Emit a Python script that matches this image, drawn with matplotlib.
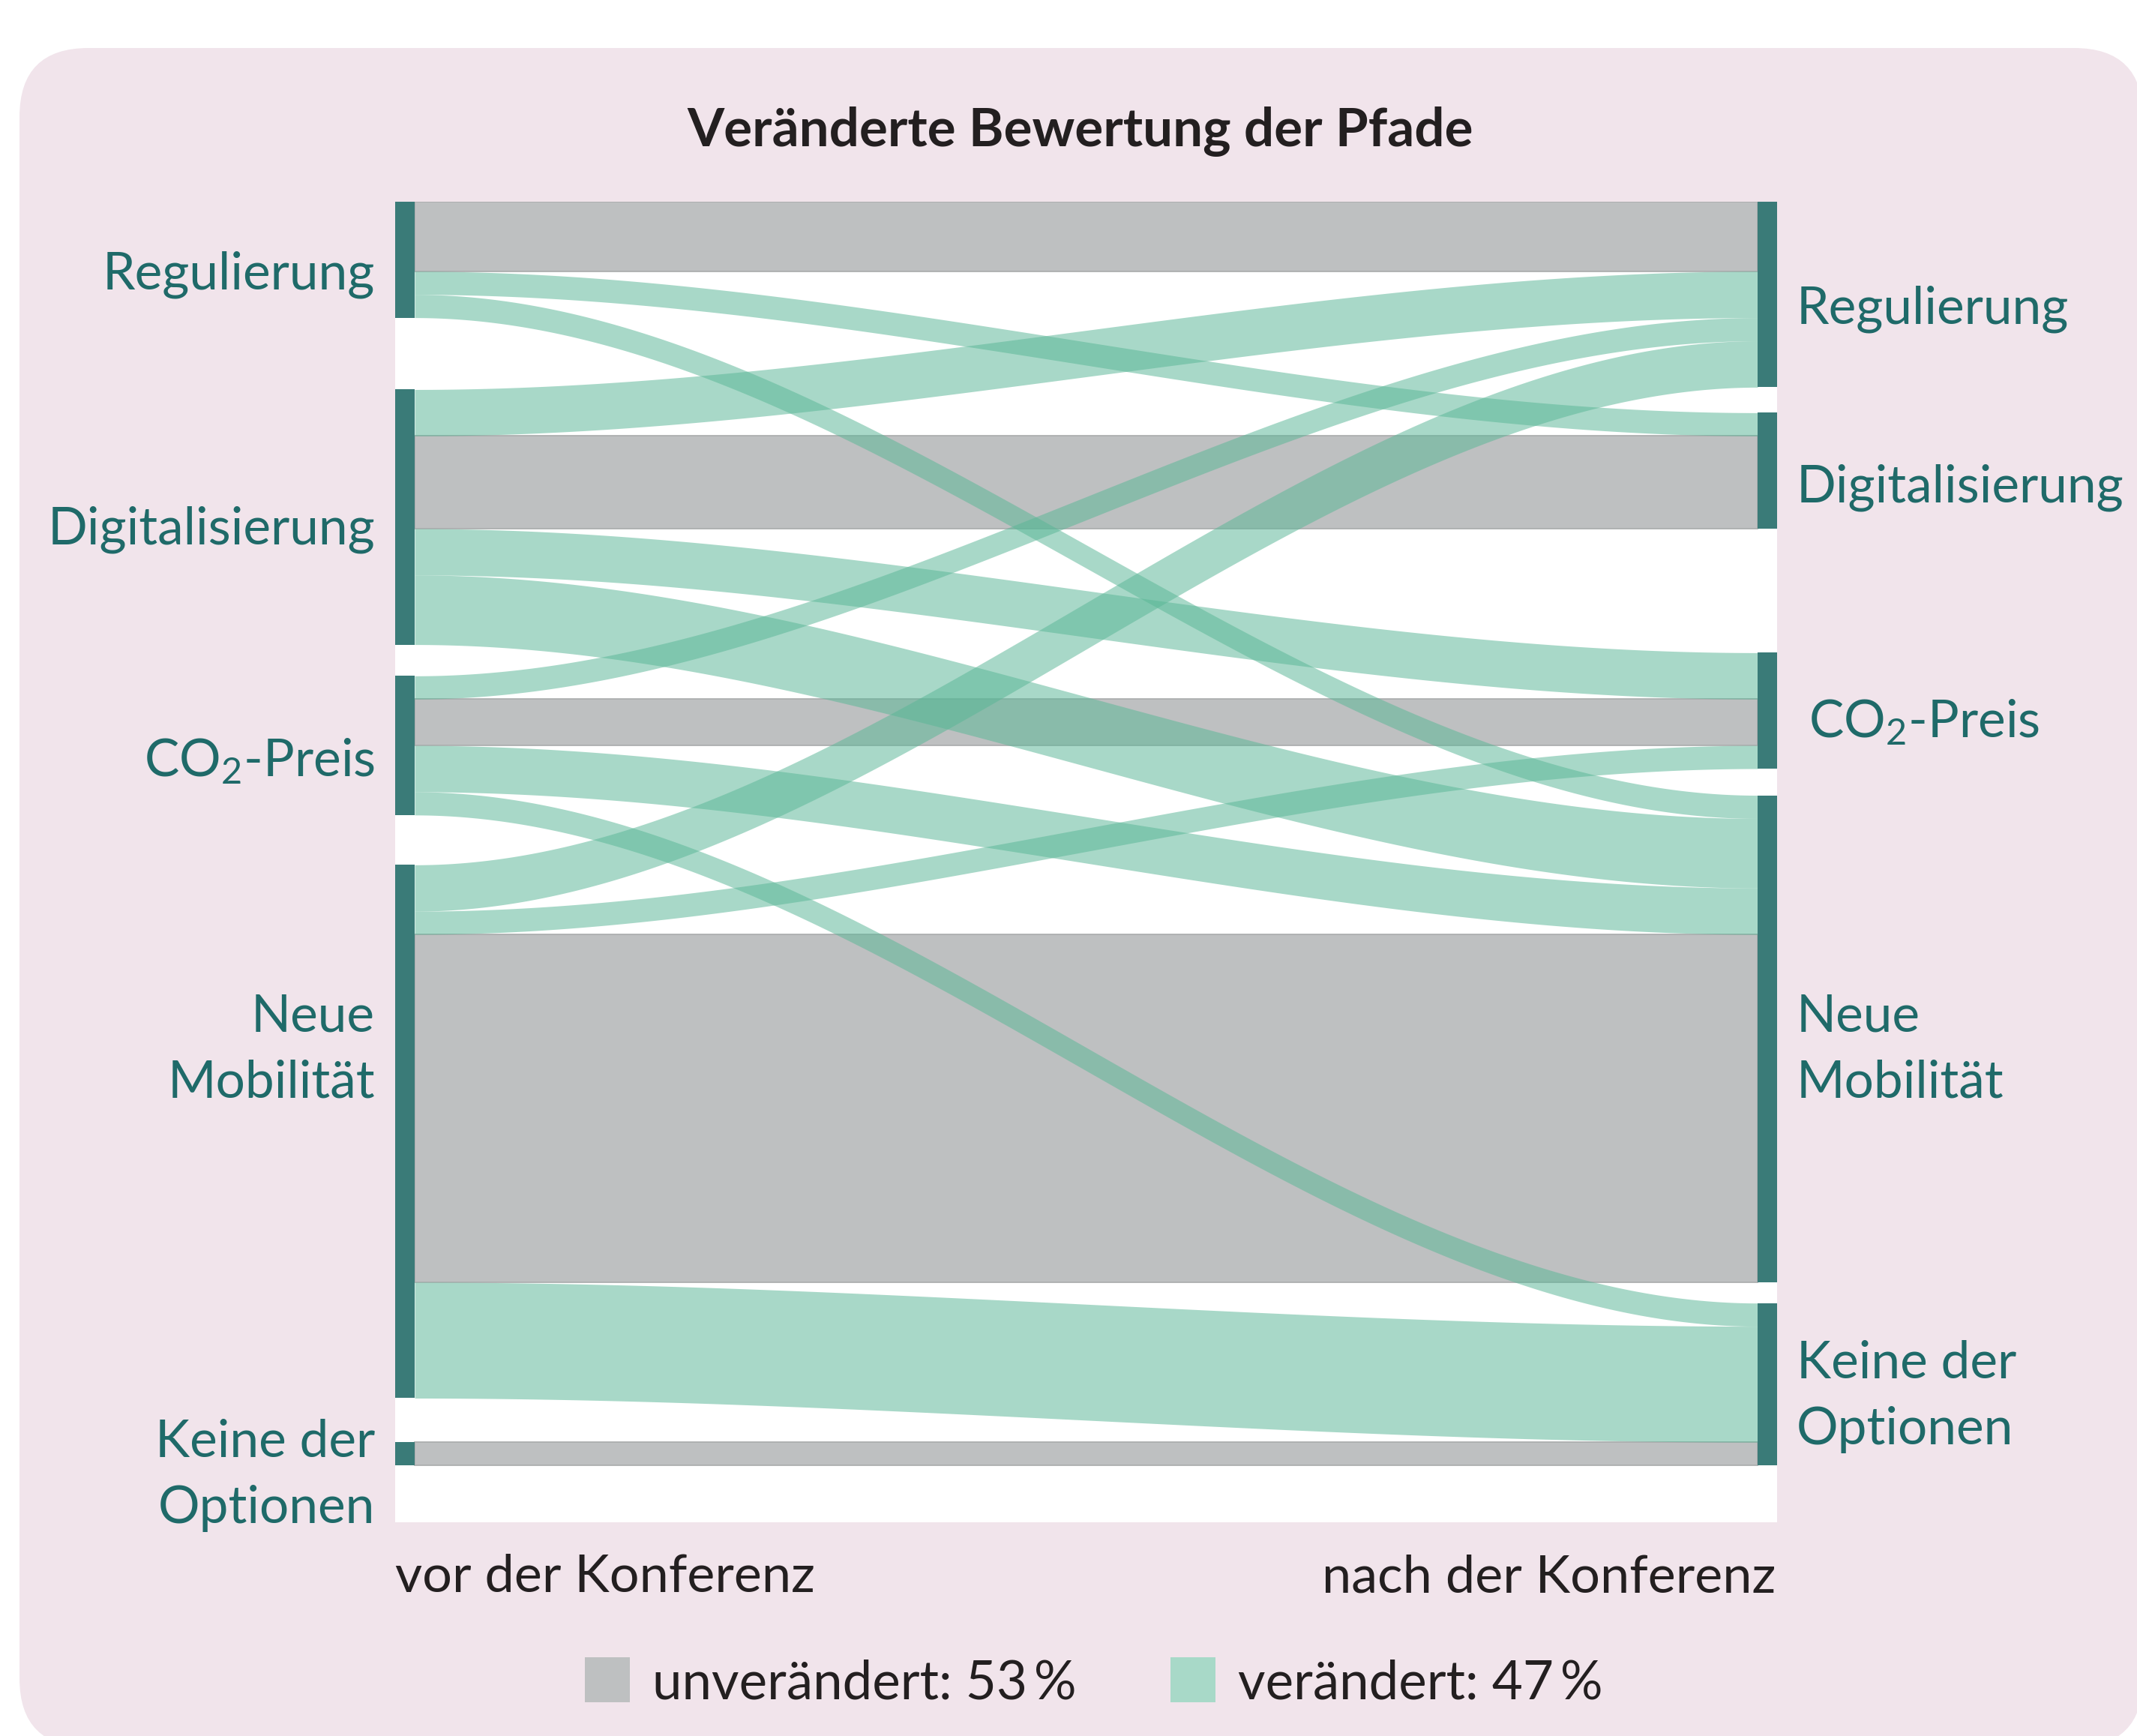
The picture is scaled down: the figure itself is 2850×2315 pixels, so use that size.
"""Alluvial chart: how the assessment of the paths changed (before vs after)."""
import numpy as np
import matplotlib.pyplot as plt
from matplotlib import font_manager
from matplotlib.patches import FancyBboxPatch, Rectangle

# --- data ------------------------------------------------------------------
nodes = ["Regulierung", "Digitalisierung", "CO$_\\mathrm{2}$-Preis",
         "Neue\nMobilität", "Keine der\nOptionen"]
# respondents: rows = before the conference, cols = after the conference
flows = np.array([
    [3, 1, 0, 1, 0],
    [2, 4, 2, 3, 0],
    [1, 0, 2, 2, 1],
    [2, 0, 1, 15, 5],
    [0, 0, 0, 0, 1],
])
title = "Veränderte Bewertung der Pfade"
side_labels = ["vor der Konferenz", "nach der Konferenz"]
legend_labels = ["unverändert: 53\u2009%", "verändert: 47\u2009%"]

# --- layout (node tops in respondent units, label baselines in px) ---------
top_left = [0.0, 8.1, 20.45, 28.6, 53.5]
top_right = [0.0, 9.1, 19.45, 25.6, 47.5]
lab_left_y = [385, 725, 1036, 1376, 1943]
lab_right_y = [431, 669, 984, 1376, 1838]
LINE = 88

W, H = 2850, 2315
PLOT = (527, 269, 2370, 2030)          # white area in px (x0, y0, x1, y1)
UNIT = 30.92                            # px per respondent
BAR = 26 / (PLOT[2] - PLOT[0])          # node bar width (axes x fraction)

PINK = "#F1E4EB"
GREY = "#BEC0C1"
GREEN = (91 / 255, 183 / 255, 151 / 255)
GREEN_LEG = "#A8D9C8"
TEAL = "#3A7B78"
TEAL_TXT = "#1F6A69"
DARK = "#231F20"

avail = {f.name for f in font_manager.fontManager.ttflist}
FONT = next((f for f in ["Lato", "Open Sans", "Noto Sans"] if f in avail),
            "DejaVu Sans")
plt.rcParams["font.family"] = [FONT, "DejaVu Sans"]
plt.rcParams["mathtext.fontset"] = "custom"
plt.rcParams["mathtext.rm"] = FONT
plt.rcParams["mathtext.it"] = FONT

fig = plt.figure(figsize=(W / 100, H / 100), dpi=100)
fig.patch.set_facecolor("white")

# background axes in pixel coordinates
bg = fig.add_axes([0, 0, 1, 1])
bg.set_xlim(0, W); bg.set_ylim(H, 0); bg.axis("off")
bg.add_patch(FancyBboxPatch((26, 64), 2832, 2266,
                            boxstyle="round,pad=0,rounding_size=92",
                            fc=PINK, ec="none"))

# main axes: x in [0, 1], y in respondent units (downwards)
ax = fig.add_axes([PLOT[0] / W, 1 - PLOT[3] / H, (PLOT[2] - PLOT[0]) / W,
                   (PLOT[3] - PLOT[1]) / H])
ax.set_xlim(0, 1)
ax.set_ylim((PLOT[3] - PLOT[1]) / UNIT, 0)
ax.axis("off")
ax.add_patch(Rectangle((0, 0), 1, (PLOT[3] - PLOT[1]) / UNIT, fc="white",
                       ec="none", zorder=0))

xs = np.linspace(BAR, 1 - BAR, 300)
t = (xs - BAR) / (1 - 2 * BAR)
s = t * t * (3 - 2 * t)

n = len(nodes)
lcur = list(top_left)
rcur = list(top_right)
for i in range(n):
    for j in range(n):
        v = flows[i, j]
        if v == 0:
            continue
        yl, yr = lcur[i], rcur[j]
        lcur[i] += v
        rcur[j] += v
        if i == j:
            ax.add_patch(Rectangle((BAR, yl), 1 - 2 * BAR, v, fc=GREY,
                                   ec="#A9ABAC", lw=1.2, zorder=1))
        else:
            y_top = yl + (yr - yl) * s
            ax.fill_between(xs, y_top, y_top + v, color=GREEN, alpha=0.53,
                            lw=0, zorder=2)

out_tot = flows.sum(1)
in_tot = flows.sum(0)
for i in range(n):
    ax.add_patch(Rectangle((0, top_left[i]), BAR, out_tot[i], fc=TEAL,
                           ec="none", zorder=3))
    ax.add_patch(Rectangle((1 - BAR, top_right[i]), BAR, in_tot[i], fc=TEAL,
                           ec="none", zorder=3))

# node labels
for i, name in enumerate(nodes):
    for k, line in enumerate(name.split("\n")):
        bg.text(500, lab_left_y[i] + k * LINE, line, ha="right",
                va="baseline", fontsize=50, color=TEAL_TXT)
        x_r = 2412 if "CO" in line else 2396
        bg.text(x_r, lab_right_y[i] + k * LINE, line, ha="left",
                va="baseline", fontsize=50, color=TEAL_TXT)

bg.text(1441, 195, title, ha="center", va="baseline", fontsize=51,
        fontweight="bold", color=DARK)
bg.text(527, 2123, side_labels[0], ha="left", va="baseline", fontsize=50.5,
        color=DARK)
bg.text(2368, 2123, side_labels[1], ha="right", va="baseline", fontsize=50.5,
        color=DARK)

# legend
for x, col, lab in [(780, GREY, legend_labels[0]),
                    (1561, GREEN_LEG, legend_labels[1])]:
    bg.add_patch(Rectangle((x, 2210), 60, 60, fc=col, ec="none"))
    bg.text(x + 90, 2265, lab, ha="left", va="baseline", fontsize=51,
            color=DARK)

fig.savefig("out.png", dpi=100)
plt.close(fig)
